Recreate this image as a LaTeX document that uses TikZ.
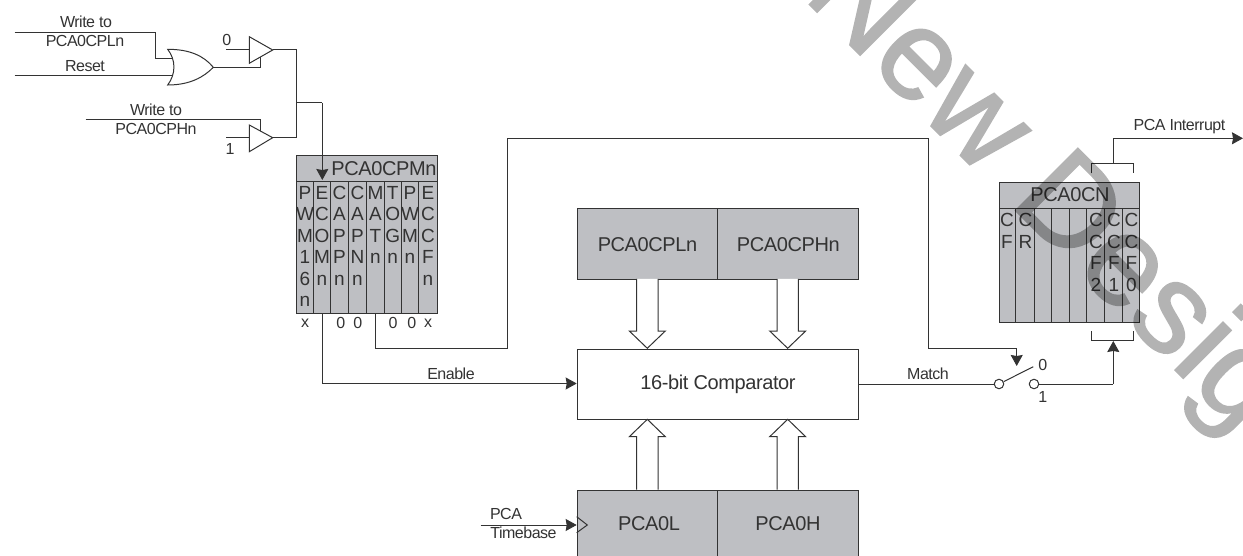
\documentclass[tikz,border=0pt]{standalone}
\usepackage{fontspec}
\setmainfont{Liberation Sans}
\newfontfamily\tightfont[LetterSpace=-3]{Liberation Sans}
\newfontfamily\bigfont[LetterSpace=-2]{Liberation Sans}
\newfontfamily\markfont[FakeBold=1.3]{Liberation Sans}
\usetikzlibrary{arrows.meta,calc}
\definecolor{boxgray}{HTML}{BEBFC3}
\definecolor{wm}{HTML}{B3B3B3}
\definecolor{ink}{HTML}{333333}
\tikzset{
  x=1pt,y=-1pt,
  wire/.style={draw=ink,line width=1pt},
  arr/.style={wire,-{Stealth[inset=1pt,length=11pt,width=12pt]}},
  box/.style={draw=ink,line width=1pt,fill=boxgray,inner sep=0pt},
  lab/.style={font=\tightfont\fontsize{16}{16}\selectfont,text=ink,inner sep=0pt},
  reg/.style={font=\bigfont\fontsize{20}{20}\selectfont,text=ink,inner sep=0pt,anchor=center},
  bit/.style={font=\fontsize{19}{21.5}\selectfont,text=ink,inner sep=0pt,align=center,anchor=north},
  buf/.style={draw=ink,line width=1pt,fill=white},
  pin/.style={circle,draw=ink,line width=1pt,fill=white,minimum size=9.5pt,inner sep=0pt},
  bus/.style={draw=ink,line width=1pt,fill=white},
}
\begin{document}
\begin{tikzpicture}
\useasboundingbox (0,0) rectangle (1243,556);
\clip (0,0) rectangle (1243,556);
% gate inputs
\coordinate (w1) at (14.5,32.3);
\coordinate (w1b) at (155.7,32.3);
\coordinate (w1c) at (155.7,59);
\coordinate (orA) at (172,59);
\coordinate (rs) at (14.5,75.7);
\coordinate (orB) at (173,75.7);
\coordinate (orOut) at (213.3,67.3);
% OR gate
\draw[wire,fill=white] (167.7,49.3) .. controls (190,49.3) and (204,56) .. (213.3,67.3) .. controls (204,77) and (190,85) .. (167.7,85) .. controls (176,74) and (176,60) .. (167.7,49.3) -- cycle;
\node[lab] (t1) at (86,21.7) {Write to};
\node[lab] (t2) at (85,41) {PCA0CPLn};
\node[lab] (t3) at (85,66) {Reset};
\draw[wire] (w1) -- (w1b) -- (w1c) -- (orA);
\draw[wire] (rs) -- (orB);
% buffers
\coordinate (b0t) at (249.3,36.7);
\coordinate (b0b) at (249.3,63.3);
\coordinate (b0o) at (272.7,50);
\coordinate (b1t) at (249.3,125);
\coordinate (b1b) at (249.3,151.7);
\coordinate (b1o) at (272.7,137.7);
\draw[wire] (orOut) -- (260.7,67.3) -- (260.7,56);
\draw[wire] (85.7,120) -- (260.7,120) -- (260.7,131.7);
\draw[buf] (b0t) -- (b0o) -- (b0b) -- cycle;
\draw[buf] (b1t) -- (b1o) -- (b1b) -- cycle;
\node[lab] (z0) at (226.7,40) {0};
\node[lab] (o1) at (230,149) {1};
\coordinate (c0) at (226,50);
\draw[wire] (c0) -- (b0t |- c0);
\coordinate (c1) at (226,137.7);
\draw[wire] (c1) -- (b1t |- c1);
\node[lab] (t4) at (156,110) {Write to};
\node[lab] (t5) at (156,129) {PCA0CPHn};
% PCA0CPMn register
\node[box,minimum width=140.7pt,minimum height=158.3pt,anchor=north west] (cpm) at (296,155) {};
\draw[wire] (296,181.7) -- (436.7,181.7);
\foreach \x in {313.3,330.7,348.3,366.7,384,401.3,418.7} \draw[wire] (\x,181.7) -- (\x,313.3);
\node[reg] (cpmt) at (384,169) {PCA0CPMn};
\foreach \x/\t in {305/{P\\W\\M\\1\\6\\n},322/{E\\C\\O\\M\\n},339.5/{C\\A\\P\\P\\n},357.5/{C\\A\\P\\N\\n},375.5/{M\\A\\T\\n},392.7/{T\\O\\G\\n},410/{P\\W\\M\\n},428/{E\\C\\C\\F\\n}}
  \node[bit] at (\x,186) {\t};
\foreach \x/\t in {305/x,340.7/0,357.7/0,393/0,411.7/0,428/x}
  \node[lab] at (\x,323) {\t};
% wires to register
\draw[wire] (b0o) -- (296,50) -- (296,137.7) -- (b1o);
\coordinate (j1) at (296,102.7);
\draw[wire] (j1) -- (322.3,102.7);
\draw[arr] (322.3,102.7) -- (322.3,180);
% comparator
\node[draw=ink,line width=1pt,fill=white,minimum width=281.6pt,minimum height=70.3pt,anchor=north west,inner sep=0pt,font=\bigfont\fontsize{20}{20}\selectfont,text=ink] (cmp) at (576.7,348.7) {16-bit Comparator};
% boxes
\node[box,minimum width=140.6pt,minimum height=70.7pt,anchor=north west] (cpl) at (576.7,208.3) {};
\node[box,minimum width=141pt,minimum height=70.7pt,anchor=north west] (cph) at (717.3,208.3) {};
\node[reg] at (cpl.center) {PCA0CPLn};
\node[reg] at (cph.center) {PCA0CPHn};
\node[box,minimum width=140.6pt,minimum height=72pt,anchor=north west] (lo) at (576.7,489.7) {};
\node[box,minimum width=141pt,minimum height=72pt,anchor=north west] (hi) at (717.3,489.7) {};
\node[reg] at (649,523.3) {PCA0L};
\node[reg] at (788,523.3) {PCA0H};
\draw[wire] (576.7,516.7) -- (587.3,525) -- (576.7,532.7);
% bus arrows
\foreach \x in {647.3,787.7} {
 \draw[bus] (\x-10.7,279) -- (\x-10.7,331) -- (\x-18,331) -- (\x,348.3) -- (\x+18,331) -- (\x+10.7,331) -- (\x+10.7,279);
 \draw[bus] (\x-10.7,489.7) -- (\x-10.7,436.7) -- (\x-18,436.7) -- (\x,419.3) -- (\x+18,436.7) -- (\x+10.7,436.7) -- (\x+10.7,489.7);
}
% Enable / loop
\draw[arr] (322.3,313.3) -- (322.3,383.5) -- (576.7,383.5);
\node[lab] (en) at (451,374) {Enable};
\draw[wire] (375,313.3) -- (375,348.3) -- (507.5,348.3) -- (507.5,138.5) -- (928.3,138.5) -- (928.3,348.3) -- (1016.7,348.3);
\draw[arr] (1016.7,348.3) -- (1016.7,366);
% switch
\node[pin] (p0) at (999,384) {};
\node[pin] (p1) at (1034,384) {};
\coordinate (arm) at (1033.3,366.7);
\draw[wire] (858.3,384) -- (p0);
\draw[wire] (p0) -- (arm);
\node[lab] at (1042.7,365) {0};
\node[lab] at (1042.7,396.7) {1};
\node[lab] (match) at (928,374) {Match};
\draw[wire] (p1) -- (1113.3,384);
\draw[arr] (1113.3,384) -- (1113.3,341);
% PCA0CN
\node[box,minimum width=140.3pt,minimum height=140.6pt,anchor=north west] (cn) at (999,181.7) {};
\draw[wire] (999,208.3) -- (1139.3,208.3);
\foreach \x in {1015.7,1034,1051.7,1069.3,1086.7,1104.3,1122} \draw[wire] (\x,208.3) -- (\x,322.3);
\node[reg] (cnt) at (1070,195) {PCA0CN};
\foreach \x/\t in {1007/{C\\F},1025.5/{C\\R},1096/{C\\C\\F\\2},1114/{C\\C\\F\\1},1131.5/{C\\C\\F\\0}}
  \node[bit] at (\x,213.3) {\t};
\draw[wire] (1091,331) -- (1091,340) -- (1133.7,340) -- (1133.7,331);
\draw[wire] (1091,173.3) -- (1091,164) -- (1133.7,164) -- (1133.7,173.3);
\coordinate (ci) at (1113.3,164);
\draw[arr] (ci) -- (1113.3,138.3) -- (1243,138.3);
\node[lab] (ci2) at (1179.5,127) {PCA Interrupt};
% clock
\node[lab] (pc) at (506,514) {PCA};
\node[lab] (tb) at (523.5,533) {Timebase};
\draw[arr] (480.7,525) -- (576.7,525);
% watermark
\begin{scope}[transparency group,blend mode=multiply]
\node[font=\markfont\fontsize{128}{128}\selectfont,text=wm,rotate=-45,anchor=base west,inner sep=0pt] (wmk) at (802,-3) {New Design};
\end{scope}
\end{tikzpicture}
\end{document}
